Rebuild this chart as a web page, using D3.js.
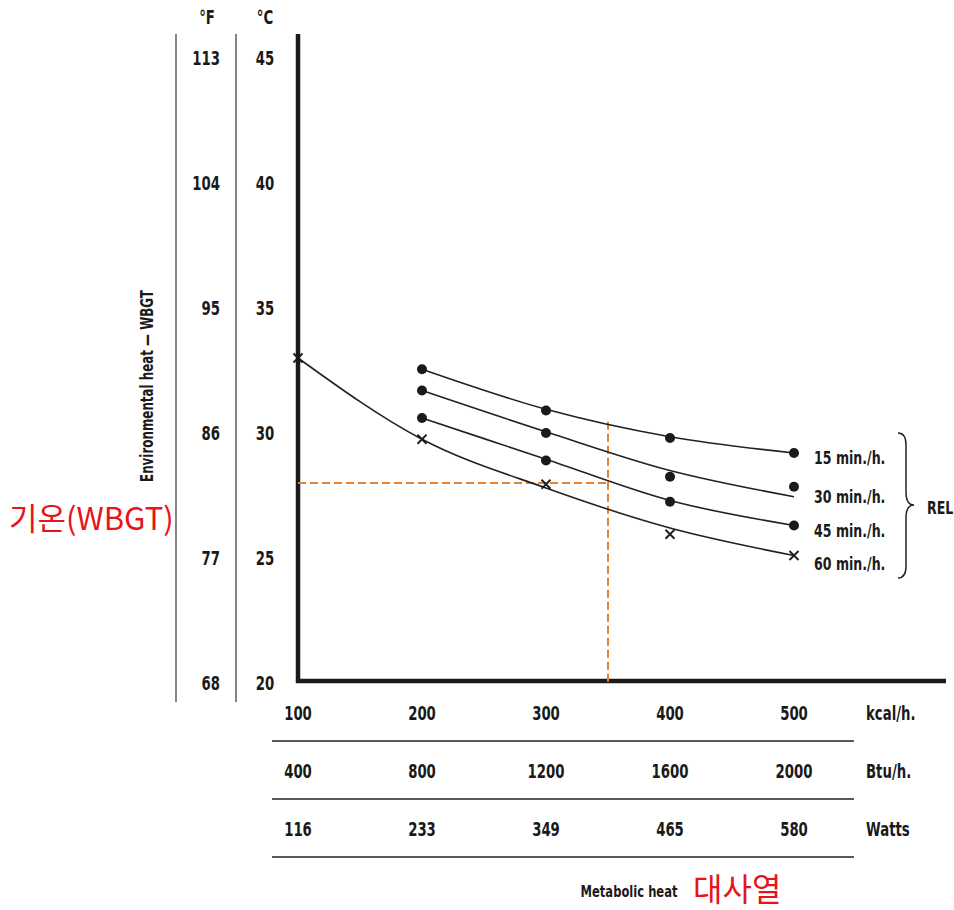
<!DOCTYPE html>
<html>
<head>
<meta charset="utf-8">
<script src="https://cdn.jsdelivr.net/npm/d3@7"></script>
<style>
  body { margin: 0; background: #fff; }
  svg text { font-family: "DejaVu Sans", sans-serif; font-weight: bold; fill: #1a1a1a; }
  svg text.red { font-family: "Noto Sans CJK KR", "Noto Sans", sans-serif; font-weight: normal; fill: #e8141c; }
</style>
</head>
<body>
<svg id="chart" width="954" height="910"></svg>
<script>
// Axis ticks
const celsiusTicks = [20, 25, 30, 35, 40, 45];
const fahrenheitTicks = [68, 77, 86, 95, 104, 113];
const kcalTicks = [100, 200, 300, 400, 500];
const btuTicks = [400, 800, 1200, 1600, 2000];
const wattTicks = [116, 233, 349, 465, 580];
const unitLabels = ['kcal/h.', 'Btu/h.', 'Watts'];

// REL series: measured markers and fitted curves (°C)
const seriesNames = ['15 min./h.', '30 min./h.', '45 min./h.', '60 min./h.'];
const markerX = [200, 300, 400, 500];
const markers15 = [32.55, 30.9, 29.8, 29.2];
const markers30 = [31.7, 30.0, 28.25, 27.85];
const markers45 = [30.6, 28.9, 27.25, 26.3];
const markers60 = [29.75, 27.95, 25.95, 25.1];
const start60 = [100, 33.0];
const curve15 = [32.55, 30.95, 29.85, 29.2];
const curve30 = [31.7, 30.05, 28.5, 27.45];
const curve45 = [30.6, 28.95, 27.3, 26.3];
const curve60x = [100, 200, 300, 400, 500];
const curve60 = [33.0, 29.75, 27.8, 26.2, 25.1];

// worked example (orange dashed guide)
const exampleKcal = 350;
const exampleWbgt = 28.0;
const exampleTop = 30.45;

const SQUEEZE = 0.7; // fake a condensed face

const svg = d3.select('#chart');

var x = d3.scaleLinear().domain([100, 500]).range([298, 794]);
var y = d3.scaleLinear().domain([20, 45]).range([683, 58]);
// °F sits on the same pixels as °C
var yF = d3.scaleLinear().domain([68, 113]).range([683, 58]);

function label(px, py, txt, size, anchor) {
  return svg.append('text')
    .attr('transform', 'translate(' + px + ',' + py + ') scale(' + SQUEEZE + ',1)')
    .attr('text-anchor', anchor || 'start')
    .style('font-size', size + 'px')
    .text(txt);
}

// thin scale rails on the left
[176, 236].forEach(function(px) {
  svg.append('line')
    .attr('x1', px).attr('x2', px)
    .attr('y1', 34).attr('y2', 702)
    .attr('stroke', '#444').attr('stroke-width', 1.3);
});

label(207, 24, '°F', 19, 'middle');
label(265, 24, '°C', 19, 'middle');

fahrenheitTicks.forEach(function(d) { label(220, yF(d) + 7, d, 19, 'end'); });
celsiusTicks.forEach(function(d) { label(265, y(d) + 7, d, 19, 'middle'); });

// y axis label
svg.append('text')
  .attr('transform', 'translate(153,386) rotate(-90) scale(' + SQUEEZE + ',1)')
  .attr('text-anchor', 'middle')
  .style('font-size', '17px')
  .text('Environmental heat — WBGT');

svg.append('text').attr('class', 'red')
  .attr('x', 9).attr('y', 530)
  .style('font-size', '31px')
  .text('기온(WBGT)');

// main axes (thick)
svg.append('path')
  .attr('d', 'M298,34 L298,681 L946,681')
  .attr('fill', 'none').attr('stroke', '#1a1a1a').attr('stroke-width', 4.5);

// bottom unit rows
var rows = [kcalTicks, btuTicks, wattTicks];
var rowY = [720, 778, 836];
rows.forEach(function(vals, r) {
  vals.forEach(function(d, i) { label(x(kcalTicks[i]), rowY[r], d, 19, 'middle'); });
  label(866, rowY[r], unitLabels[r], 19);
  svg.append('line')
    .attr('x1', 272).attr('x2', 854)
    .attr('y1', rowY[r] + 21).attr('y2', rowY[r] + 21)
    .attr('stroke', '#222').attr('stroke-width', 1.5);
});

label(629, 897, 'Metabolic heat', 16.5, 'middle');
svg.append('text').attr('class', 'red')
  .attr('x', 693).attr('y', 901)
  .style('font-size', '32px')
  .text('대사열');

// orange guide
svg.append('path')
  .attr('d', 'M' + x(100) + ',' + y(exampleWbgt) + ' L' + x(exampleKcal) + ',' + y(exampleWbgt))
  .attr('stroke', '#e8812c').attr('stroke-width', 2).attr('stroke-dasharray', '8,4').attr('fill', 'none');
svg.append('path')
  .attr('d', 'M' + x(exampleKcal) + ',' + y(exampleTop) + ' L' + x(exampleKcal) + ',' + y(20))
  .attr('stroke', '#e8812c').attr('stroke-width', 2).attr('stroke-dasharray', '8,4').attr('fill', 'none');

// curves
var line = d3.line()
  .x(function(d) { return x(d[0]); })
  .y(function(d) { return y(d[1]); })
  .curve(d3.curveMonotoneX);

var curves = [
  markerX.map(function(k, i) { return [k, curve15[i]]; }),
  markerX.map(function(k, i) { return [k, curve30[i]]; }),
  markerX.map(function(k, i) { return [k, curve45[i]]; }),
  curve60x.map(function(k, i) { return [k, curve60[i]]; })
];
svg.selectAll('.curve')
  .data(curves)
  .enter().append('path')
  .attr('class', 'curve')
  .attr('d', line)
  .attr('fill', 'none')
  .attr('stroke', '#222')
  .attr('stroke-width', 1.6);

// dots
var dots = [];
[markers15, markers30, markers45].forEach(function(arr) {
  arr.forEach(function(v, i) { dots.push([markerX[i], v]); });
});
svg.selectAll('.dot')
  .data(dots)
  .enter().append('circle')
  .attr('class', 'dot')
  .attr('cx', function(d) { return x(d[0]); })
  .attr('cy', function(d) { return y(d[1]); })
  .attr('r', 5)
  .attr('fill', '#1a1a1a');

// crosses
var crosses = [start60].concat(markers60.map(function(v, i) { return [markerX[i], v]; }));
svg.selectAll('.cross')
  .data(crosses)
  .enter().append('path')
  .attr('class', 'cross')
  .attr('d', function(d) {
    var cx = x(d[0]), cy = y(d[1]), s = 4.5;
    return 'M' + (cx - s) + ',' + (cy - s) + 'L' + (cx + s) + ',' + (cy + s) +
      'M' + (cx + s) + ',' + (cy - s) + 'L' + (cx - s) + ',' + (cy + s);
  })
  .attr('stroke', '#1a1a1a')
  .attr('stroke-width', 1.8);

// series labels
var labelY = [464, 503, 537, 570];
seriesNames.forEach(function(d, i) { label(814, labelY[i], d, 18); });

// brace
svg.append('path')
  .attr('d', 'M898,433 Q906,433 906,445 L906,492 Q906,505 914,505 Q906,505 906,518 L906,566 Q906,578 898,578')
  .attr('fill', 'none').attr('stroke', '#222').attr('stroke-width', 1.5);
label(927, 514, 'REL', 18);
</script>
</body>
</html>
